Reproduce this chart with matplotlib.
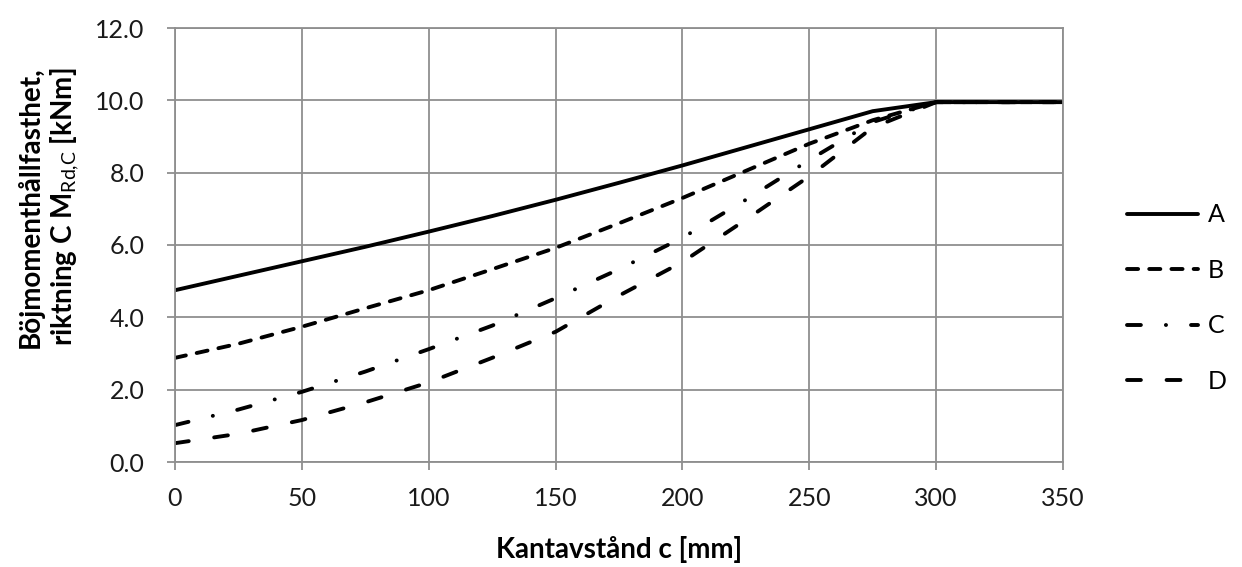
import matplotlib
matplotlib.use("Agg")
import matplotlib.pyplot as plt
from matplotlib.ticker import FormatStrFormatter

plt.rcParams['font.family'] = ['Lato', 'DejaVu Sans']
plt.rcParams['mathtext.fontset'] = 'custom'
plt.rcParams['mathtext.rm'] = 'Lato'
plt.rcParams['lines.scale_dashes'] = False

# edge distance c [mm]
c_mm = [0, 25, 50, 75, 100, 125, 150, 175, 200, 225, 250, 275, 300, 350]

# bending moment resistance in direction C [kNm]
m_A = [4.75, 5.15, 5.55, 5.95, 6.37, 6.80, 7.25, 7.72, 8.20, 8.70, 9.20, 9.70, 9.95, 9.95]
m_B = [2.88, 3.27, 3.74, 4.25, 4.75, 5.33, 5.92, 6.60, 7.30, 8.05, 8.80, 9.45, 9.95, 9.95]
m_C = [1.02, 1.45, 1.94, 2.50, 3.12, 3.77, 4.53, 5.33, 6.20, 7.25, 8.35, 9.40, 9.95, 9.95]
m_D = [0.52, 0.78, 1.16, 1.65, 2.20, 2.88, 3.60, 4.60, 5.53, 6.70, 7.90, 9.25, 9.95, 9.95]

labels = ['A', 'B', 'C', 'D']
series = [m_A, m_B, m_C, m_D]
# dash patterns in points (round caps add one linewidth to each dash)
dashes = [None, (8.0, 8.0), (10.0, 18.0, 0.1, 18.0), (10.0, 18.5)]

fig = plt.figure(figsize=(12.42, 5.67), dpi=100)
ax = fig.add_axes([175 / 1242, 1 - 462 / 567, 888 / 1242, 434 / 567])

for lab, vals, dsh in zip(labels, series, dashes):
    line, = ax.plot(c_mm, vals, color='black', linewidth=2.8, label=lab,
                    solid_capstyle='round', dash_capstyle='round')
    if dsh is not None:
        line.set_dashes(dsh)

ax.set_xlim(0, 350)
ax.set_ylim(0, 12)
ax.set_xticks(range(0, 351, 50))
ax.set_yticks([0, 2, 4, 6, 8, 10, 12])
ax.yaxis.set_major_formatter(FormatStrFormatter('%.1f'))

ax.grid(True, color='#8f8f8f', linewidth=1.3)
ax.set_axisbelow(True)
for s in ax.spines.values():
    s.set_color('#8f8f8f')
    s.set_linewidth(1.3)
ax.tick_params(axis='both', colors='#8f8f8f', labelcolor='#1a1a1a',
               labelsize=18, length=6, width=1.3)
ax.tick_params(axis='y', pad=16)
ax.tick_params(axis='x', pad=12)

ax.set_xlabel('Kantavstånd c [mm]', fontsize=20, fontweight='bold')
ax.xaxis.set_label_coords(0.5, -(536 - 462) / 434)
ax.xaxis.label.set_va('top')
ax.set_ylabel('Böjmomenthållfasthet,\nriktning C M$_{\\mathrm{Rd{,}C}}$ [kNm]',
              fontsize=20, fontweight='bold', linespacing=1.2)
ax.yaxis.set_label_coords((82 - 175) / 888, (462 - 207) / 434)

ax.legend(loc='center left', bbox_to_anchor=(1127 / 1242, 1 - 298 / 567),
          bbox_transform=fig.transFigure, frameon=False, fontsize=18,
          handlelength=2.85, handletextpad=0.4, labelspacing=1.3,
          borderpad=0, borderaxespad=0)

fig.savefig('out.png', dpi=100)
